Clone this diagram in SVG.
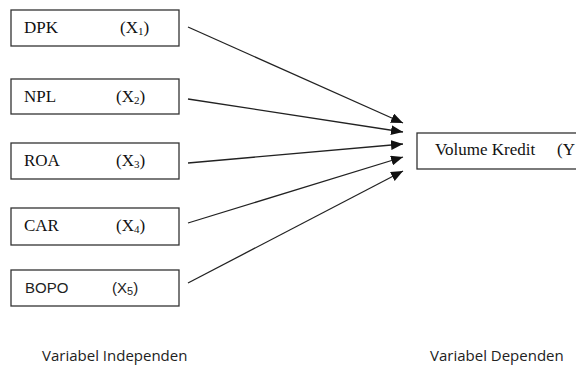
<svg xmlns="http://www.w3.org/2000/svg" width="576" height="365" viewBox="0 0 576 365">
<style>
.box{fill:#fff;stroke:#333;stroke-width:1.3}
.t{font-family:"Liberation Serif","Times New Roman",serif;font-size:17px;fill:#111}
.s{font-family:"Liberation Sans",Arial,sans-serif;font-size:15px;fill:#222}
.sub{font-size:11px}
.lbl{font-family:"Open Sans","Liberation Sans",Arial,sans-serif;font-size:15px;fill:#222}
.c{stroke:#222;stroke-width:1.3;fill:none;marker-end:url(#ah)}
</style>
<defs>
<marker id="ah" markerUnits="userSpaceOnUse" markerWidth="12" markerHeight="10" refX="12" refY="5" orient="auto">
<path d="M0,0 L12,5 L0,10 Z" fill="#111"/>
</marker>
</defs>
<rect width="576" height="365" fill="#fff"/>
<g id="dpk">
<rect class="box" x="11" y="10" width="168" height="36"/>
<text class="t" x="24" y="33">DPK</text>
<text class="t" x="120" y="33">(X<tspan class="sub" dy="2">1</tspan><tspan dy="-2">)</tspan></text>
</g>
<g id="npl">
<rect class="box" x="11" y="79" width="168" height="35"/>
<text class="t" x="24" y="102">NPL</text>
<text class="t" x="116" y="102">(X<tspan class="sub" dy="2">2</tspan><tspan dy="-2">)</tspan></text>
</g>
<g id="roa">
<rect class="box" x="11" y="143" width="168" height="36"/>
<text class="t" x="24" y="166">ROA</text>
<text class="t" x="116" y="166">(X<tspan class="sub" dy="2">3</tspan><tspan dy="-2">)</tspan></text>
</g>
<g id="car">
<rect class="box" x="11" y="208" width="168" height="37"/>
<text class="t" x="24" y="231">CAR</text>
<text class="t" x="116" y="231">(X<tspan class="sub" dy="2">4</tspan><tspan dy="-2">)</tspan></text>
</g>
<g id="bopo">
<rect class="box" x="11" y="270" width="168" height="36"/>
<text class="s" x="25" y="293">BOPO</text>
<text class="s" x="112" y="293">(X<tspan class="sub" dy="2">5</tspan><tspan dy="-2">)</tspan></text>
</g>
<g id="volume">
<rect class="box" x="417" y="133" width="170" height="36"/>
<text class="t" x="435" y="155">Volume Kredit<tspan x="557">(Y</tspan></text>
</g>
<g id="connectors">
<line class="c" x1="188" y1="27" x2="403" y2="123"/>
<line class="c" x1="188" y1="99" x2="403" y2="132"/>
<line class="c" x1="188" y1="163" x2="403" y2="144"/>
<line class="c" x1="188" y1="223" x2="403" y2="157"/>
<line class="c" x1="188" y1="283" x2="403" y2="171"/>
</g>
<g id="labels">
<text class="lbl" x="42" y="361">Variabel Independen</text>
<text class="lbl" x="430" y="361">Variabel Dependen</text>
</g>
</svg>
